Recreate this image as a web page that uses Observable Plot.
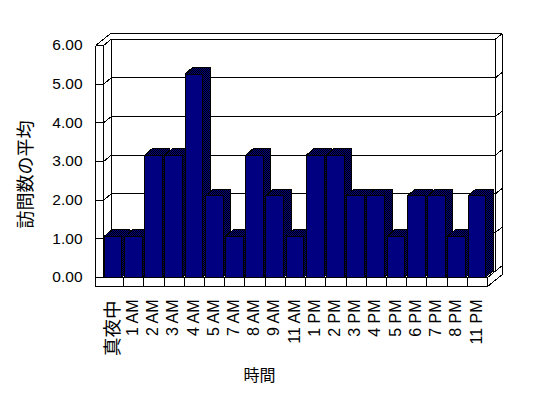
<!DOCTYPE html>
<html>
<head>
<meta charset="utf-8">
<script src="https://cdn.jsdelivr.net/npm/d3@7"></script>
<script src="https://cdn.jsdelivr.net/npm/@observablehq/plot@0.6"></script>
<style>
  html, body { margin: 0; padding: 0; background: #fff; }
</style>
</head>
<body>
<div id="chart"></div>
<script>
// ---- data ----
const categories = ["真夜中", "1 AM", "2 AM", "3 AM", "4 AM", "5 AM", "7 AM", "8 AM", "9 AM", "11 AM",
                    "1 PM", "2 PM", "3 PM", "4 PM", "5 PM", "6 PM", "7 PM", "8 PM", "11 PM"];
const values = [1.05, 1.05, 3.15, 3.15, 5.25, 2.1, 1.05, 3.15, 2.1, 1.05,
                3.15, 3.15, 2.1, 2.1, 1.05, 2.1, 2.1, 1.05, 2.1];
const yTicks = [0, 1, 2, 3, 4, 5, 6];
const yTitle = "訪問数の平均";
const xTitle = "時間";

// ---- layout ----
const W = 548, H = 398;
const mL = 103, mR = 61, mT = 45, mB = 121;
const yMax = yTicks[yTicks.length - 1];
const kx = (W - mL - mR) / categories.length;   // px per x unit
const ky = (H - mT - mB) / yMax;                // px per y unit
const ux = p => p / kx, uy = p => p / ky;

const X0 = -0.5, X1 = categories.length - 0.5;
const WX = ux(7.8), DX = ux(7.7), DY = uy(6.2), BX = ux(7), BY = uy(5.6), FL = uy(9);
const XL = X0 - WX;

// frame segments of the 3D box
const segments = [];
const seg = (x1, y1, x2, y2) => segments.push({x1, y1, x2, y2});
seg(XL, yMax, XL, -FL);
seg(X0, yMax, X0, 0);
seg(XL, yMax, X0, yMax);
seg(XL, yMax, XL + DX + BX, yMax + DY + BY);
seg(X0, yMax, X0 + DX, yMax + DY);
yTicks.forEach(v => {
  if (v < yMax) { seg(XL, v, X0, v); seg(X0, v, X0 + DX, v + DY); }
  seg(X0 + DX, v + DY, X1 + DX, v + DY);
  seg(X1 + DX, v + DY, X1 + DX + BX, v + DY + BY);
});
seg(X0 + DX, DY, X0 + DX, yMax + DY);
seg(X1 + DX, DY, X1 + DX, yMax + DY);
seg(XL + DX + BX, yMax + DY + BY, X1 + DX + BX, yMax + DY + BY);
seg(X1 + DX + BX, yMax + DY + BY, X1 + DX + BX, -FL + DY + BY);
seg(XL, 0, X1, 0);
seg(XL, -FL, X1, -FL);
seg(X1, 0, X1, -FL);
seg(X1, -FL, X1 + DX + BX, -FL + DY + BY);
seg(X1, 0, X1 + DX, DY);
categories.forEach((c, i) => { if (i > 0) seg(i - 0.5, 0, i - 0.5, -FL); });

// bars
const BH = 0.44, SX = ux(7.5), SY = uy(6.5);
const bars = values.map((v, i) => ({i, v}));
const shadow = bars.flatMap(({i, v}) => {
  const L = i - BH, R = i + BH;
  return [
    {i, x: L, y1: v, y2: v},
    {i, x: L + SX, y1: v, y2: v + SY},
    {i, x: R, y1: v, y2: v + SY},
    {i, x: R, y1: 0, y2: v + SY},
    {i, x: R + SX, y1: SY, y2: v + SY}
  ];
});

const labels = categories.map((c, i) => ({c, i, cjk: /[^\x00-\x7f]/.test(c)}));
const latin = "'Liberation Sans', Arial, sans-serif";
const cjk = "'Noto Sans CJK JP', sans-serif";

const chart = Plot.plot({
  width: W, height: H,
  marginLeft: mL, marginRight: mR, marginTop: mT, marginBottom: mB,
  style: {background: "white", fontFamily: latin, fontSize: "15px", color: "black"},
  x: {type: "linear", domain: [X0, X1], axis: null},
  y: {domain: [0, yMax], axis: null},
  marks: [
    Plot.link(segments, {x1: "x1", y1: "y1", x2: "x2", y2: "y2", stroke: "black", strokeWidth: 1, shapeRendering: "crispEdges"}),
    Plot.areaY(shadow, {x: "x", y1: "y1", y2: "y2", z: "i", fill: "#000040", stroke: "black", strokeWidth: 1, curve: "linear", shapeRendering: "crispEdges"}),
    Plot.rect(bars, {x1: d => d.i - BH, x2: d => d.i + BH, y1: () => 0, y2: "v", fill: "#000080", stroke: "black", strokeWidth: 1, shapeRendering: "crispEdges"}),
    Plot.axisY(yTicks, {tickFormat: d => d.toFixed(2), tickSize: 0, tickPadding: 21, label: null, fontSize: 15.5, fontFamily: latin}),
    Plot.text(labels.filter(d => !d.cjk), {x: "i", y: () => 0, text: "c", dx: -1, dy: 22, rotate: -90, textAnchor: "end", lineAnchor: "middle", fontSize: 16, fontFamily: latin}),
    Plot.text(labels.filter(d => d.cjk), {x: "i", y: () => 0, text: "c", dx: -1, dy: 23, rotate: -90, textAnchor: "end", lineAnchor: "middle", fontSize: 18.5, fontFamily: cjk}),
    Plot.text([yTitle], {frameAnchor: "left", text: d => d, rotate: -90, dx: -77, dy: 13, fontSize: 18, textAnchor: "middle", lineAnchor: "middle", fontFamily: cjk}),
    Plot.text([xTitle], {frameAnchor: "bottom", text: d => d, dx: -36, dy: 98, fontSize: 16, textAnchor: "middle", lineAnchor: "middle", fontFamily: cjk})
  ]
});

// dithered shading for the bar sides / tops
const ns = "http://www.w3.org/2000/svg";
const defs = document.createElementNS(ns, "defs");
defs.innerHTML = '<pattern id="dither" width="2" height="2" patternUnits="userSpaceOnUse">' +
  '<rect width="2" height="2" fill="#000080"/><rect width="1" height="1" fill="#000"/>' +
  '<rect x="1" y="1" width="1" height="1" fill="#000"/></pattern>';
chart.insertBefore(defs, chart.firstChild);
chart.querySelectorAll('[fill="#000040"]').forEach(e => e.setAttribute("fill", "url(#dither)"));

document.getElementById("chart").appendChild(chart);
</script>
</body>
</html>
